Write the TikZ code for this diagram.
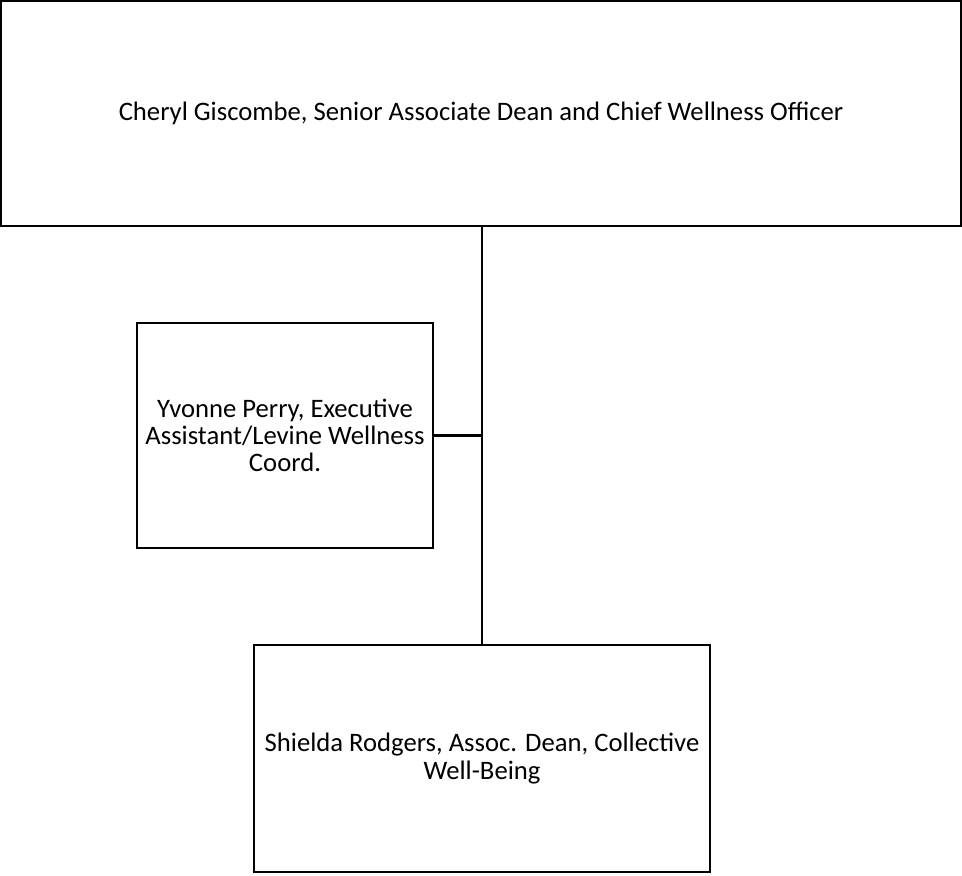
\documentclass[tikz,border=0pt]{standalone}
\usepackage{fontspec}
\setmainfont{Carlito}
\begin{document}
\begin{tikzpicture}[x=0.75pt,y=-0.75pt,
	box/.style={draw,line width=2pt,align=center,inner sep=0pt,
		font=\fontsize{20}{20.5}\selectfont}]
\useasboundingbox (0,0) rectangle (962,875);
\node[box,minimum width=720pt,minimum height=168.75pt] (dean) at (481,113.5)
	{Cheryl Giscombe, Senior Associate Dean and Chief Wellness Officer};
\node[box,minimum width=222pt,minimum height=168.75pt] (assist) at (285,435.5)
	{Yvonne Perry, Executive\\Assistant/Levine Wellness\\Coord.};
\node[box,minimum width=342pt,minimum height=170.25pt] (assoc) at (482,758.5)
	{Shielda Rodgers, Assoc. Dean, Collective\\Well-Being};
\draw [line width=2pt] (dean.south -| assoc.north) -- (assoc.north);
\draw [line width=2pt] (assist.east) -- (assist.east -| assoc.north);
\end{tikzpicture}
\end{document}
